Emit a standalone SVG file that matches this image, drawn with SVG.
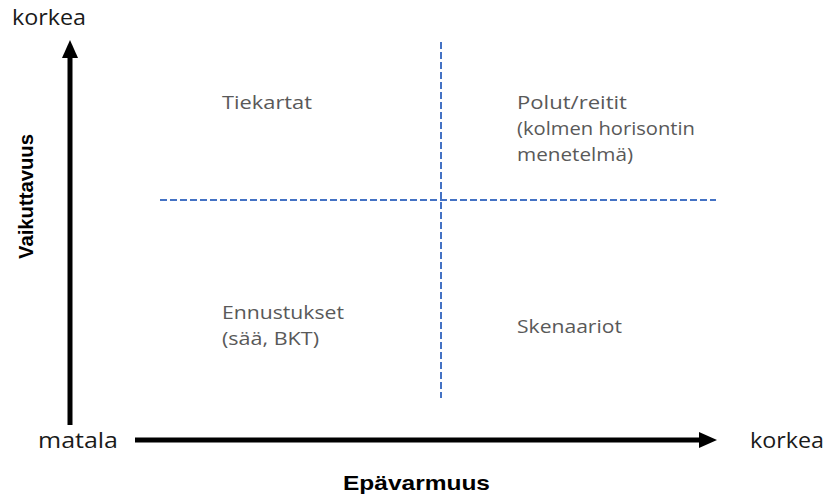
<svg xmlns="http://www.w3.org/2000/svg" width="827" height="497" viewBox="0 0 827 497">
  <style>
    .axis-label { font-family: "Open Sans", "Noto Sans", sans-serif; font-size: 22px; fill: #1a1a1a; }
    .axis-title { font-family: "Liberation Sans", Arial, sans-serif; font-size: 21px; font-weight: bold; fill: #000; }
    .quad { font-family: "Open Sans", "Noto Sans", sans-serif; font-size: 19px; fill: #595959; }
    .axis { stroke: #000; stroke-width: 5; fill: none; }
    .divider { stroke: #4472C4; stroke-width: 2; stroke-dasharray: 7 3; fill: none; }
  </style>
  <defs>
    <marker id="arrow" markerUnits="userSpaceOnUse" markerWidth="18" markerHeight="16" refX="0" refY="8" orient="auto" viewBox="0 0 18 16">
      <path d="M0,0 L18,8 L0,16 Z" fill="#000"/>
    </marker>
  </defs>
  <rect width="827" height="497" fill="#fff"/>

  <!-- axes and quadrant dividers -->
  <g id="connectors">
    <line class="axis" x1="70" y1="425" x2="70" y2="58" stroke-width="6" marker-end="url(#arrow)"/>
    <line class="axis" x1="135" y1="440" x2="699" y2="440" marker-end="url(#arrow)"/>
    <line class="divider" x1="160" y1="200" x2="716" y2="200"/>
    <line class="divider" x1="441" y1="42" x2="441" y2="398"/>
  </g>

  <!-- axis end labels -->
  <g id="y-high"><text class="axis-label" x="12" y="25" textLength="74" lengthAdjust="spacingAndGlyphs">korkea</text></g>
  <g id="x-low"><text class="axis-label" x="38" y="448" textLength="80" lengthAdjust="spacingAndGlyphs">matala</text></g>
  <g id="x-high"><text class="axis-label" x="750" y="448" textLength="74" lengthAdjust="spacingAndGlyphs">korkea</text></g>

  <!-- axis titles -->
  <g id="x-title"><text class="axis-title" x="343" y="490" textLength="147" lengthAdjust="spacingAndGlyphs">Epävarmuus</text></g>
  <g id="y-title"><text class="axis-title" x="0" y="0" textLength="125" lengthAdjust="spacingAndGlyphs" transform="translate(33,259) rotate(-90)">Vaikuttavuus</text></g>

  <!-- quadrants -->
  <g id="tiekartat"><text class="quad" x="222" y="109" textLength="90" lengthAdjust="spacingAndGlyphs">Tiekartat</text></g>
  <g id="polut">
    <text class="quad" x="517" y="109" textLength="110" lengthAdjust="spacingAndGlyphs">Polut/reitit</text>
    <text class="quad" x="517" y="135" textLength="178" lengthAdjust="spacingAndGlyphs">(kolmen horisontin</text>
    <text class="quad" x="517" y="161" textLength="116" lengthAdjust="spacingAndGlyphs">menetelmä)</text>
  </g>
  <g id="ennustukset">
    <text class="quad" x="222" y="319" textLength="122" lengthAdjust="spacingAndGlyphs">Ennustukset</text>
    <text class="quad" x="222" y="345" textLength="97" lengthAdjust="spacingAndGlyphs">(sää, BKT)</text>
  </g>
  <g id="skenaariot"><text class="quad" x="517" y="333" textLength="105" lengthAdjust="spacingAndGlyphs">Skenaariot</text></g>
</svg>
